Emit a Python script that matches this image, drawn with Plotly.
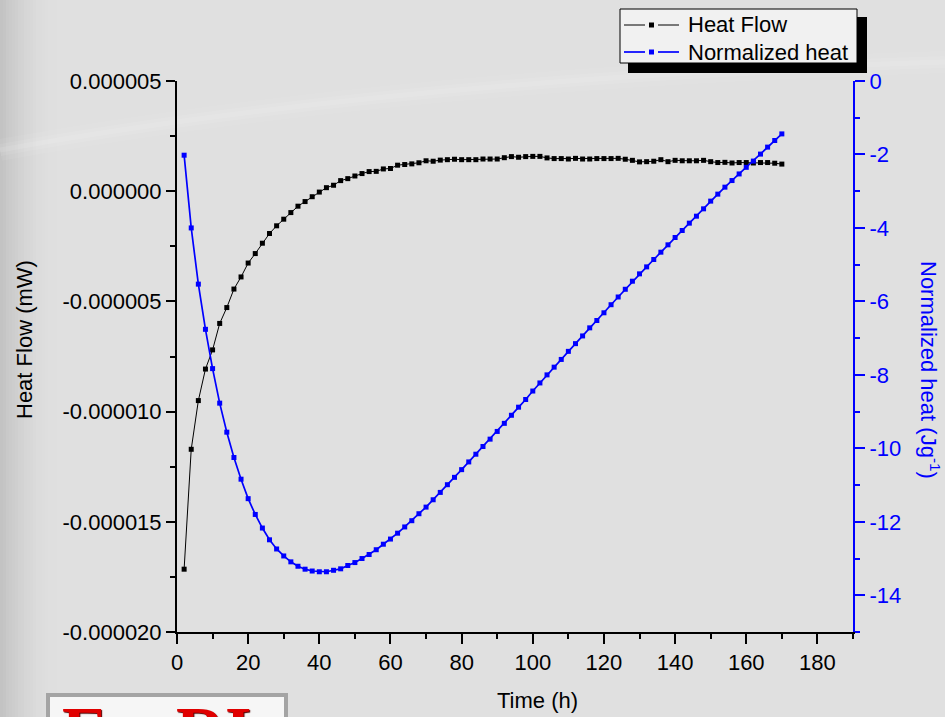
import plotly.graph_objects as go

# Sampling times (h)
time_h = [2, 4, 6, 8, 10, 12, 14, 16, 18, 20, 22, 24, 26, 28, 30, 32, 34, 36, 38, 40,
          42, 44, 46, 48, 50, 52, 54, 56, 58, 60, 62, 64, 66, 68, 70, 72, 74, 76, 78, 80,
          82, 84, 86, 88, 90, 92, 94, 96, 98, 100, 102, 104, 106, 108, 110, 112, 114, 116,
          118, 120, 122, 124, 126, 128, 130, 132, 134, 136, 138, 140, 142, 144, 146, 148,
          150, 152, 154, 156, 158, 160, 162, 164, 166, 168, 170]

# Heat flow in units of 1e-6 mW
heat_flow_e6 = [-17.15, -11.71, -9.50, -8.07, -7.20, -6.00, -5.28, -4.44, -3.89, -3.26,
                -2.83, -2.36, -1.92, -1.57, -1.27, -0.97, -0.68, -0.47, -0.25, -0.04,
                0.16, 0.27, 0.48, 0.57, 0.69, 0.80, 0.89, 0.90, 1.01, 1.03,
                1.18, 1.21, 1.24, 1.29, 1.38, 1.36, 1.41, 1.43, 1.45, 1.43,
                1.43, 1.43, 1.46, 1.46, 1.46, 1.52, 1.57, 1.54, 1.57, 1.58,
                1.58, 1.51, 1.48, 1.48, 1.46, 1.49, 1.46, 1.46, 1.48, 1.48,
                1.48, 1.49, 1.45, 1.40, 1.33, 1.34, 1.36, 1.43, 1.34, 1.40,
                1.38, 1.38, 1.38, 1.40, 1.34, 1.30, 1.31, 1.28, 1.30, 1.30,
                1.28, 1.30, 1.30, 1.27, 1.23]
heat_flow = [v * 1e-6 for v in heat_flow_e6]

# Normalized heat (J/g)
normalized_heat = [-2.02, -4.00, -5.53, -6.76, -7.83, -8.77, -9.56, -10.25, -10.84, -11.37,
                   -11.80, -12.17, -12.49, -12.74, -12.93, -13.09, -13.21, -13.29, -13.34, -13.36,
                   -13.36, -13.32, -13.28, -13.19, -13.11, -13.00, -12.89, -12.76, -12.61, -12.47,
                   -12.31, -12.14, -11.97, -11.78, -11.60, -11.40, -11.20, -10.99, -10.79, -10.58,
                   -10.37, -10.16, -9.95, -9.75, -9.54, -9.32, -9.10, -8.88, -8.67, -8.44,
                   -8.22, -8.00, -7.79, -7.58, -7.36, -7.15, -6.94, -6.72, -6.52, -6.31,
                   -6.09, -5.88, -5.67, -5.45, -5.25, -5.06, -4.86, -4.66, -4.46, -4.26,
                   -4.07, -3.87, -3.68, -3.48, -3.27, -3.08, -2.89, -2.71, -2.53, -2.35,
                   -2.18, -1.99, -1.80, -1.62, -1.44]

# Tick labels
x_tickvals = [0, 20, 40, 60, 80, 100, 120, 140, 160, 180]
x_ticktext = ["0", "20", "40", "60", "80", "100", "120", "140", "160", "180"]
left_tickvals = [5e-6, 0.0, -5e-6, -10e-6, -15e-6, -20e-6]
left_ticktext = ["0.000005", "0.000000", "-0.000005", "-0.000010", "-0.000015", "-0.000020"]
right_tickvals = [0, -2, -4, -6, -8, -10, -12, -14]
right_ticktext = ["0", "-2", "-4", "-6", "-8", "-10", "-12", "-14"]

series_names = ["Heat Flow", "Normalized heat"]

FONT = "Liberation Sans, Arial, sans-serif"
SERIF = "Liberation Serif, Times New Roman, serif"
BLUE = "#0000ff"

# plot area in pixels (for placing decorations)
L, R, T, B = 177, 853, 81, 632
W, H = R - L, B - T


def px(x):
    return (x - L) / W


def py(y):
    return (B - y) / H


fig = go.Figure()
fig.add_trace(go.Scatter(
    x=time_h, y=heat_flow, name=series_names[0], mode="lines+markers",
    line=dict(color="black", width=1),
    marker=dict(symbol="square", size=5, color="black"),
    xaxis="x", yaxis="y", showlegend=False))
fig.add_trace(go.Scatter(
    x=time_h, y=normalized_heat, name=series_names[1], mode="lines+markers",
    line=dict(color=BLUE, width=1.7),
    marker=dict(symbol="square", size=5, color=BLUE),
    xaxis="x", yaxis="y2", showlegend=False))

tickfont = dict(family=FONT, size=22, color="black")

shapes = []

# soft darker band along the left edge of the page
step = 3
for x0 in range(0, 60, step):
    a = 0.20 * (1 - x0 / 60) ** 2
    shapes.append(dict(type="rect", xref="paper", yref="paper", layer="below",
                       x0=px(x0), x1=px(x0 + step), y0=py(717), y1=py(0),
                       fillcolor=f"rgba(80,80,80,{a:.3f})", line=dict(width=0)))

# faint light streak across the top of the page
streak = f"M {px(0)},{py(150)} Q {px(400)},{py(78)} {px(945)},{py(62)}"
for w, a in [(22, 0.06), (12, 0.08), (5, 0.10)]:
    shapes.append(dict(type="path", xref="paper", yref="paper", layer="below",
                       path=streak, line=dict(color=f"rgba(255,255,255,{a})", width=w)))

# legend: drop shadow, box, symbols
shapes.append(dict(type="rect", xref="paper", yref="paper", layer="above",
                   x0=px(628), x1=px(867), y0=py(73), y1=py(17),
                   fillcolor="black", line=dict(width=0)))
shapes.append(dict(type="rect", xref="paper", yref="paper", layer="above",
                   x0=px(620), x1=px(857), y0=py(63), y1=py(9),
                   fillcolor="#f1f1f1", line=dict(color="black", width=1)))
for yrow, col, lw in [(25, "black", 1), (52, BLUE, 1.7)]:
    for xa, xb in [(624, 645), (658, 679)]:
        shapes.append(dict(type="line", xref="paper", yref="paper", layer="above",
                           x0=px(xa), x1=px(xb), y0=py(yrow), y1=py(yrow),
                           line=dict(color=col, width=lw)))
    shapes.append(dict(type="rect", xref="paper", yref="paper", layer="above",
                       x0=px(649), x1=px(654), y0=py(yrow + 2.5), y1=py(yrow - 2.5),
                       fillcolor=col, line=dict(width=0)))

# logo frame at the bottom-left
shapes.append(dict(type="rect", xref="paper", yref="paper", layer="above",
                   x0=px(48), x1=px(286), y0=py(735), y1=py(695),
                   fillcolor="#f6f6f6", line=dict(color="#a4a4a4", width=4)))

annotations = [
    dict(text="Time (h)", xref="paper", yref="paper", x=px(537), y=py(700),
         showarrow=False, font=dict(family=FONT, size=22, color="black"),
         xanchor="center", yanchor="middle"),
    dict(text="Heat Flow (mW)", xref="paper", yref="paper", x=px(24), y=py(340),
         showarrow=False, textangle=-90, font=dict(family=FONT, size=22, color="black"),
         xanchor="center", yanchor="middle"),
    dict(text="Normalized heat (Jg<sup>-1</sup>)", xref="paper", yref="paper",
         x=px(930), y=py(370), showarrow=False, textangle=90,
         font=dict(family=FONT, size=22, color=BLUE),
         xanchor="center", yanchor="middle"),
    dict(text=series_names[0], xref="paper", yref="paper", x=px(686), y=py(25),
         showarrow=False, xanchor="left", yanchor="middle",
         font=dict(family=FONT, size=22, color="black")),
    dict(text=series_names[1], xref="paper", yref="paper", x=px(686), y=py(52),
         showarrow=False, xanchor="left", yanchor="middle",
         font=dict(family=FONT, size=22, color="black")),
    dict(text="<b>E</b>", xref="paper", yref="paper", x=px(60), y=py(690),
         showarrow=False, xanchor="left", yanchor="top",
         font=dict(family=SERIF, size=68, color="#e00000",
                   shadow="1px 1px 1px #500000")),
    dict(text="<b>RI</b>", xref="paper", yref="paper", x=px(174), y=py(690),
         showarrow=False, xanchor="left", yanchor="top",
         font=dict(family=SERIF, size=68, color="#e00000",
                   shadow="1px 1px 1px #500000")),
]

fig.update_layout(
    width=945, height=717,
    margin=dict(l=L, r=945 - R, t=T, b=717 - B, pad=0),
    paper_bgcolor="#e0e0e0",
    plot_bgcolor="rgba(0,0,0,0)",
    font=dict(family=FONT, size=22, color="black"),
    showlegend=False,
    xaxis=dict(range=[0, 190], tickvals=x_tickvals, ticktext=x_ticktext,
               showline=True, linecolor="black", linewidth=2,
               ticks="outside", ticklen=10, tickwidth=2, tickcolor="black",
               minor=dict(dtick=10, ticks="outside", ticklen=5, tickwidth=2, tickcolor="black"),
               showgrid=False, zeroline=False, tickfont=tickfont, anchor="y"),
    xaxis2=dict(range=[0, 190], overlaying="x", side="top", anchor="y",
                tickvals=x_tickvals, showticklabels=False,
                showline=True, linecolor="black", linewidth=2,
                ticks="inside", ticklen=11, tickwidth=2, tickcolor="black",
                minor=dict(dtick=10, ticks="inside", ticklen=5, tickwidth=2, tickcolor="black"),
                showgrid=False, zeroline=False),
    yaxis=dict(range=[-20e-6, 5e-6], tickvals=left_tickvals, ticktext=left_ticktext,
               showline=True, linecolor="black", linewidth=2,
               ticks="outside", ticklen=9, tickwidth=2, tickcolor="black",
               minor=dict(dtick=2.5e-6, ticks="outside", ticklen=5, tickwidth=2, tickcolor="black"),
               showgrid=False, zeroline=False, tickfont=tickfont),
    yaxis2=dict(range=[-15, 0], overlaying="y", side="right", anchor="x",
                tickvals=right_tickvals, ticktext=right_ticktext,
                showline=True, linecolor=BLUE, linewidth=2,
                ticks="outside", ticklen=10, tickwidth=2, tickcolor=BLUE,
                minor=dict(dtick=1, ticks="outside", ticklen=5, tickwidth=2, tickcolor=BLUE),
                showgrid=False, zeroline=False,
                tickfont=dict(family=FONT, size=22, color=BLUE)),
    shapes=shapes,
    annotations=annotations,
)

fig.write_html("out.html")
